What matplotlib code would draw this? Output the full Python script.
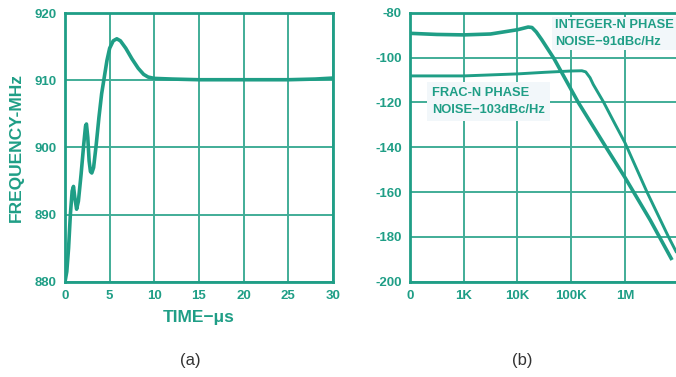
import matplotlib
matplotlib.use("Agg")
import matplotlib.pyplot as plt
import numpy as np

# ---- data: (a) frequency settling ----
time_us = [0, 0.2, 0.4, 0.6, 0.8, 0.95, 1.1, 1.3, 1.5, 1.8, 2.1, 2.3, 2.4, 2.55, 2.7,
           2.85, 3.0, 3.2, 3.5, 3.8, 4.1, 4.4, 4.7, 5.0, 5.4, 5.8, 6.2, 6.8, 7.5, 8.2,
           8.8, 9.3, 10, 12, 15, 20, 25, 28, 30]
freq_mhz = [880, 881.5, 885, 890, 893.5, 894.2, 892.5, 890.8, 892, 896, 900.5, 903.2, 903.5, 901.5, 898,
            896.4, 896.2, 897, 900.5, 904.5, 908, 910.5, 913, 914.8, 915.9, 916.2, 915.9, 914.8, 913.2, 911.8,
            910.9, 910.5, 910.3, 910.2, 910.1, 910.1, 910.1, 910.2, 910.35]
a_xticks = [0, 5, 10, 15, 20, 25, 30]
a_yticks = [880, 890, 900, 910, 920]

# ---- data: (b) phase noise ----
int_freq = [100, 316, 1e3, 3.16e3, 1e4, 1.58e4, 1.86e4, 2.24e4, 2.82e4, 4.79e4,
            1.35e5, 4.57e5, 1e6, 2.95e6, 7.24e6]
int_dbc = [-89.2, -89.7, -89.9, -89.5, -87.6, -86.4, -86.6, -88.6, -92, -100.5,
           -120, -140.5, -153.5, -172.5, -189.6]
frac_freq = [100, 1e3, 1e4, 3.16e4, 1e5, 1.58e5, 1.86e5, 2.24e5, 2.57e5, 3.98e5, 6.61e5,
             1e6, 2.57e6, 6.46e6, 8.91e6]
frac_dbc = [-108.2, -108.2, -107.3, -106.6, -106, -105.9, -106.4, -109, -112, -119.8, -129.9,
            -138, -160, -180, -186.5]
b_xticks = [100, 1e3, 1e4, 1e5, 1e6]
b_xlabels = ["0", "1K", "10K", "100K", "1M"]
b_yticks = [-200, -180, -160, -140, -120, -100, -80]

TEAL = "#1f9e86"
GRID = "#41ad97"
W, H = 676, 377

plt.rcParams["font.family"] = ["Liberation Sans", "DejaVu Sans"]
plt.rcParams["axes.unicode_minus"] = False
fig = plt.figure(figsize=(W / 100, H / 100), dpi=100)

def box(l, r, t, b):
    return [l / W, 1 - b / H, (r - l) / W, (b - t) / H]

# (a)
ax1 = fig.add_axes(box(65, 333, 13.3, 281.7))
ax1.plot(time_us, freq_mhz, color=TEAL, lw=2.6, solid_capstyle="round", solid_joinstyle="round")
ax1.set_xlim(0, 30)
ax1.set_ylim(880, 920)
ax1.set_xticks(a_xticks)
ax1.set_yticks(a_yticks)
ax1.grid(True, color=GRID, lw=1.4)
ax1.set_axisbelow(True)
ax1.set_xlabel("TIME−μs", color=TEAL, fontsize=12.5, fontweight="bold", labelpad=6)
ax1.set_ylabel("FREQUENCY-MHz", color=TEAL, fontsize=12.5, fontweight="bold", labelpad=8)

# (b)
ax2 = fig.add_axes(box(410, 678.7, 12.7, 281.7))
ax2.plot(int_freq, int_dbc, color=TEAL, lw=2.6, solid_joinstyle="round")
ax2.plot(frac_freq, frac_dbc, color=TEAL, lw=2.1, solid_joinstyle="round")
ax2.set_xscale("log")
ax2.set_xlim(100, 1e7)
ax2.set_ylim(-200, -80)
ax2.set_xticks(b_xticks)
ax2.set_xticklabels(b_xlabels)
ax2.minorticks_off()
ax2.set_yticks(b_yticks)
ax2.grid(True, color=GRID, lw=1.4)
ax2.set_axisbelow(True)
ax2.spines["right"].set_visible(False)

for ax in (ax1, ax2):
    for s in ax.spines.values():
        s.set_color(TEAL)
        s.set_linewidth(2)
    ax.tick_params(length=0, labelsize=9.5, labelcolor=TEAL, pad=6)
    for lab in ax.get_xticklabels() + ax.get_yticklabels():
        lab.set_fontweight("bold")

ax2.text(555 / W, 1 - 33.5 / H, "INTEGER-N PHASE\nNOISE−91dBc/Hz", transform=fig.transFigure,
         color=TEAL, fontsize=9.3, fontweight="bold", va="center", ha="left", linespacing=1.5,
         bbox=dict(boxstyle="square,pad=0.2", fc="#f2f7fa", ec="none"))
ax2.text(432 / W, 1 - 101.5 / H, "FRAC-N PHASE\nNOISE−103dBc/Hz", transform=fig.transFigure,
         color=TEAL, fontsize=9.3, fontweight="bold", va="center", ha="left", linespacing=1.5,
         bbox=dict(boxstyle="square,pad=0.4", fc="#f2f7fa", ec="none"))

fig.text(190 / W, 1 - 360 / H, "(a)", fontsize=12, color="#333333", ha="center", va="center")
fig.text(522 / W, 1 - 360 / H, "(b)", fontsize=12, color="#333333", ha="center", va="center")

fig.savefig("out.png", dpi=100)
